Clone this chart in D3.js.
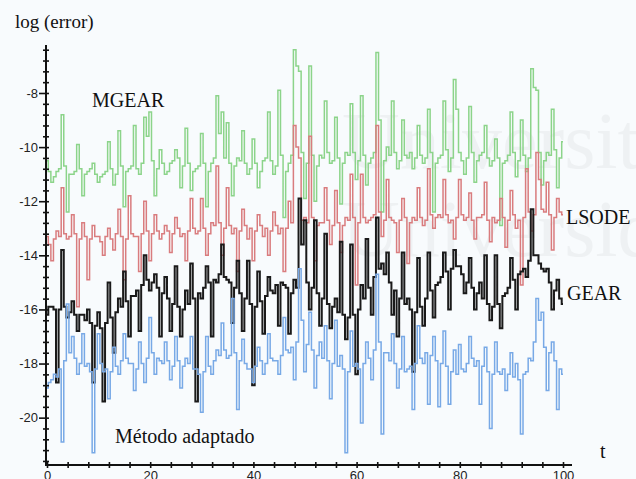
<!DOCTYPE html>
<html>
<head>
<meta charset="utf-8">
<script src="https://cdn.jsdelivr.net/npm/d3@7"></script>
<style>
  html, body { margin: 0; padding: 0; background: #f8fbfd; }
  svg { display: block; }
</style>
</head>
<body>
<div id="chart"></div>
<script>
// Error of the four integrators (log scale), read every half unit of t
const tValues = d3.range(0, 100.5, 0.5);

const mgear = [
  -10.5, -10.9, -11.3, -11.1, -10.9, -10.8, -8.8, -10.7, -12.4, -11.0,
  -11.0, -10.9, -9.9, -10.8, -11.8, -11.0, -10.9, -10.8, -10.6, -11.0,
  -11.3, -11.1, -11.0, -10.9, -9.8, -10.8, -11.4, -11.0, -9.4, -10.7,
  -12.2, -10.9, -10.8, -10.7, -9.2, -10.8, -11.0, -10.6, -8.9, -9.6,
  -8.7, -10.5, -11.8, -10.8, -10.1, -10.6, -11.0, -10.9, -10.6, -10.5,
  -10.1, -10.4, -11.5, -10.7, -9.3, -10.6, -11.6, -10.9, -10.8, -10.7,
  -9.5, -10.6, -12.2, -10.9, -10.6, -10.4, -8.1, -9.5, -8.7, -10.4,
  -9.1, -10.6, -11.8, -10.7, -10.4, -10.5, -9.4, -10.6, -11.0, -10.8,
  -9.7, -10.6, -11.5, -10.9, -10.5, -10.4, -8.7, -10.5, -11.0, -10.7,
  -7.9, -10.3, -12.6, -10.9, -10.6, -10.3, -6.4, -7.0, -7.2, -10.2,
  -11.9, -10.6, -7.0, -10.3, -12.0, -10.7, -10.3, -10.4, -8.3, -10.2,
  -10.6, -10.5, -8.9, -10.4, -12.1, -10.6, -10.2, -10.3, -8.4, -10.2,
  -11.2, -10.5, -8.1, -10.3, -11.4, -10.6, -10.4, -10.2, -6.5, -9.0,
  -12.4, -10.5, -10.0, -10.3, -8.3, -10.2, -10.8, -10.5, -9.0, -10.3,
  -10.4, -10.2, -10.8, -10.4, -9.2, -10.3, -10.6, -10.4, -8.6, -10.2,
  -12.4, -10.6, -10.4, -10.3, -8.3, -10.1, -10.9, -10.4, -7.5, -8.6,
  -10.2, -10.5, -11.0, -10.4, -8.5, -10.2, -11.3, -10.5, -10.3, -10.2,
  -9.2, -10.4, -10.7, -10.5, -9.7, -10.4, -12.9, -10.6, -10.5, -10.3,
  -8.7, -10.2, -11.1, -10.5, -9.0, -10.3, -10.9, -10.4, -7.1, -7.8,
  -7.9, -10.2, -11.4, -10.5, -10.2, -10.3, -8.6, -10.1, -11.5, -10.4,
  -9.8
];

const lsode = [
  -13.3, -13.6, -14.2, -13.4, -13.1, -13.3, -11.5, -13.2, -13.4, -13.3,
  -12.5, -13.2, -15.9, -13.4, -12.8, -13.3, -14.9, -13.4, -12.9, -13.3,
  -13.3, -13.5, -14.0, -13.3, -13.0, -13.4, -13.8, -13.2, -12.3, -13.3,
  -14.9, -13.4, -11.8, -13.2, -13.3, -13.3, -14.6, -13.2, -12.0, -13.1,
  -14.2, -13.2, -12.5, -13.1, -13.4, -13.2, -12.9, -13.1, -13.9, -13.2,
  -12.6, -13.0, -13.3, -13.2, -14.2, -13.1, -11.9, -13.0, -13.2, -13.1,
  -11.9, -13.0, -14.0, -13.2, -12.8, -12.9, -10.7, -12.8, -14.0, -13.0,
  -11.5, -12.9, -13.2, -13.0, -14.6, -13.1, -12.3, -12.9, -13.4, -13.0,
  -14.2, -13.1, -12.5, -12.9, -13.3, -13.0, -14.0, -13.1, -12.4, -12.9,
  -13.2, -13.0, -14.6, -13.0, -12.0, -12.8, -9.2, -10.0, -10.4, -12.7,
  -12.6, -12.8, -9.6, -12.6, -14.2, -12.9, -12.8, -12.8, -11.5, -12.7,
  -13.6, -12.9, -11.6, -12.8, -13.9, -12.9, -12.6, -12.7, -11.0, -12.6,
  -15.1, -12.8, -11.0, -12.6, -12.8, -12.7, -12.6, -12.5, -9.2, -12.4,
  -13.3, -12.7, -11.2, -12.6, -12.7, -12.8, -13.9, -12.7, -11.9, -12.6,
  -14.3, -12.8, -12.6, -12.7, -11.5, -12.6, -12.9, -12.7, -10.8, -12.5,
  -13.0, -12.6, -12.5, -12.6, -11.2, -12.5, -12.8, -12.7, -13.4, -12.6,
  -11.2, -12.5, -12.7, -12.6, -11.7, -12.7, -13.4, -12.6, -12.6, -12.5,
  -11.3, -12.7, -13.5, -12.6, -12.8, -12.7, -11.9, -12.6, -13.7, -12.7,
  -11.6, -12.5, -13.0, -12.7, -15.1, -12.6, -10.8, -12.4, -13.1, -12.5,
  -10.2, -11.2, -12.3, -12.4, -11.3, -12.5, -13.8, -12.6, -11.9, -12.4,
  -12.5
];

const gear = [
  -16.2, -15.9, -15.9, -16.0, -18.7, -16.0, -13.8, -15.9, -16.3, -16.1,
  -15.7, -16.2, -16.8, -16.2, -16.2, -16.4, -16.0, -16.5, -18.7, -16.6,
  -16.1, -16.7, -19.4, -16.5, -15.0, -16.3, -17.6, -16.1, -15.6, -15.9,
  -14.6, -15.7, -17.0, -15.5, -15.5, -15.3, -16.8, -15.1, -14.0, -14.9,
  -15.3, -15.0, -14.7, -15.2, -17.0, -15.4, -14.8, -15.6, -16.8, -15.8,
  -14.4, -15.9, -17.0, -16.0, -15.3, -15.8, -14.3, -15.6, -19.4, -15.4,
  -15.6, -15.2, -14.4, -15.0, -17.0, -14.9, -15.0, -14.7, -13.6, -14.8,
  -14.9, -15.0, -16.5, -15.2, -14.2, -15.4, -16.8, -15.6, -14.2, -15.8,
  -18.8, -15.9, -14.6, -15.7, -16.9, -15.5, -14.8, -15.3, -15.4, -15.1,
  -16.6, -15.0, -15.1, -15.2, -16.9, -15.4, -14.9, -15.2, -11.9, -13.6,
  -12.7, -15.0, -16.0, -15.2, -12.7, -15.4, -16.6, -15.6, -13.2, -15.8,
  -16.7, -15.9, -15.6, -16.1, -13.5, -16.2, -17.1, -16.3, -13.6, -16.2,
  -18.4, -16.0, -15.1, -15.6, -13.4, -15.2, -16.2, -14.8, -12.6, -14.5,
  -14.3, -14.7, -13.9, -15.0, -16.2, -15.3, -17.0, -15.6, -13.9, -15.8,
  -15.6, -16.0, -18.3, -16.1, -14.1, -15.9, -16.6, -15.6, -13.9, -15.3,
  -16.3, -15.1, -15.0, -14.8, -13.9, -14.6, -16.0, -14.5, -13.8, -14.4,
  -14.4, -14.7, -15.4, -15.0, -14.1, -15.2, -16.0, -15.4, -15.0, -15.6,
  -14.0, -15.8, -16.4, -15.9, -14.0, -15.8, -16.7, -15.5, -15.4, -15.2,
  -14.1, -14.9, -16.0, -14.7, -14.6, -14.5, -14.8, -14.2, -12.3, -14.0,
  -14.0, -14.3, -14.5, -14.6, -14.5, -15.0, -16.0, -15.3, -14.9, -15.6,
  -15.8
];

const adaptado = [
  -18.9, -18.7, -18.6, -18.4, -18.5, -18.2, -20.9, -17.9, -15.8, -17.6,
  -17.0, -17.8, -18.4, -18.0, -16.9, -18.1, -18.0, -18.3, -21.3, -18.2,
  -16.9, -18.0, -18.3, -18.2, -19.3, -18.3, -17.4, -18.1, -18.4, -17.9,
  -16.9, -17.8, -18.0, -18.0, -19.0, -18.2, -17.2, -18.0, -18.7, -17.8,
  -16.3, -17.6, -18.4, -17.8, -17.9, -18.0, -17.2, -17.9, -18.6, -18.1,
  -17.0, -17.9, -18.9, -18.1, -17.8, -18.0, -17.0, -18.2, -18.2, -18.4,
  -19.8, -18.3, -17.0, -18.1, -18.4, -17.9, -17.5, -17.7, -16.5, -17.5,
  -17.8, -17.7, -15.6, -17.6, -19.7, -17.9, -17.1, -18.0, -18.2, -18.2,
  -18.7, -18.1, -17.4, -17.9, -18.4, -18.0, -16.9, -17.8, -17.9, -17.9,
  -18.4, -17.7, -16.3, -17.5, -17.6, -17.4, -18.6, -17.2, -14.5, -16.4,
  -18.3, -17.3, -16.1, -17.5, -18.9, -17.7, -17.2, -17.8, -16.6, -17.9,
  -19.3, -18.0, -16.4, -18.1, -17.7, -18.2, -21.3, -18.3, -16.8, -18.1,
  -18.0, -18.2, -20.2, -18.0, -17.2, -17.8, -18.6, -17.5, -14.7, -17.2,
  -20.6, -17.6, -17.6, -17.9, -16.9, -18.0, -18.9, -18.2, -17.0, -18.3,
  -18.2, -18.1, -19.7, -18.0, -16.6, -17.8, -18.0, -17.6, -19.5, -17.7,
  -17.0, -17.9, -19.6, -18.0, -16.8, -18.1, -19.5, -18.3, -17.5, -18.4,
  -17.3, -18.2, -18.3, -18.0, -17.0, -17.8, -18.1, -17.9, -19.5, -18.1,
  -17.4, -18.3, -20.4, -18.4, -17.2, -18.3, -18.4, -18.2, -19.0, -18.4,
  -17.6, -18.5, -18.0, -18.6, -20.6, -18.4, -18.3, -17.8, -17.9, -17.2,
  -15.6, -16.4, -16.1, -17.4, -19.0, -17.6, -17.2, -17.9, -19.7, -18.2,
  -18.4
];

const seriesNames = ["MGEAR", "LSODE", "GEAR", "Método adaptado"];
const seriesColors = ["#8cd48a", "#d97c7e", "#1a1a1a", "#78a9e6"];
const seriesWidths = [1.5, 1.5, 2.0, 1.5];

const yTickValues = d3.range(0, 39).map(i => +(-21.6 + i * 0.4).toFixed(1));
const yLabelValues = [-20, -18, -16, -14, -12, -10, -8];
const xTickValues = d3.range(0, 101, 4);
const xLabelValues = [0, 20, 40, 60, 80, 100];

const width = 636, height = 479;

const svg = d3.select("#chart").append("svg")
  .attr("width", width)
  .attr("height", height);

const x = d3.scaleLinear().domain([0, 100]).range([47, 563]);
const y = d3.scaleLinear().domain([-21.75, -6.3]).range([465, 47]);

// faint watermark from the scanned page
const wm = svg.append("g")
  .attr("font-family", "'Liberation Serif', 'Times New Roman', serif")
  .attr("fill", "#000")
  .attr("opacity", 0.035);
wm.append("text").attr("x", 342).attr("y", 168).attr("font-size", 80).text("Universitat");
wm.append("text").attr("x", 342).attr("y", 256).attr("font-size", 80).text("Universidad");

// series
const line = d3.line()
  .x((d, i) => x(tValues[i]))
  .y(d => y(d))
  .curve(d3.curveStep);

[mgear, lsode, gear, adaptado].forEach((vals, k) => {
  svg.append("path")
    .datum(vals)
    .attr("fill", "none")
    .attr("stroke", seriesColors[k])
    .attr("stroke-width", seriesWidths[k])
    .attr("stroke-linejoin", "miter")
    .attr("d", line);
});

// y axis
const yAxis = svg.append("g")
  .attr("transform", "translate(46,0)")
  .call(d3.axisLeft(y)
    .tickValues(yTickValues)
    .tickSize(3)
    .tickFormat(d => yLabelValues.includes(d) ? String(d) : ""));
yAxis.select(".domain").remove();
yAxis.append("line")
  .attr("x1", 0).attr("x2", 0)
  .attr("y1", 45).attr("y2", 466)
  .attr("stroke", "#111").attr("stroke-width", 2);
yAxis.selectAll(".tick line")
  .attr("stroke", "#111")
  .attr("stroke-width", 1.6)
  .attr("x1", 3)
  .attr("x2", d => yLabelValues.includes(d) ? -7 : -3);
yAxis.selectAll(".tick text")
  .attr("x", -8)
  .attr("fill", "#222")
  .attr("font-family", "'Liberation Sans', Arial, sans-serif")
  .attr("font-size", 13);

// x axis
const xAxis = svg.append("g")
  .attr("transform", "translate(0,465)")
  .call(d3.axisBottom(x)
    .tickValues(xTickValues)
    .tickSize(3)
    .tickFormat(d => xLabelValues.includes(d) ? String(d) : ""));
xAxis.select(".domain").remove();
xAxis.append("line")
  .attr("x1", 45).attr("x2", 572)
  .attr("y1", 0).attr("y2", 0)
  .attr("stroke", "#111").attr("stroke-width", 2);
xAxis.selectAll(".tick line")
  .attr("stroke", "#111")
  .attr("stroke-width", 1.6)
  .attr("y1", -3)
  .attr("y2", 3);
xAxis.selectAll(".tick text")
  .attr("y", 6)
  .attr("fill", "#222")
  .attr("font-family", "'Liberation Sans', Arial, sans-serif")
  .attr("font-size", 13);

// labels
const serif = "'Liberation Serif', 'Times New Roman', serif";
svg.append("text").attr("x", 15).attr("y", 28)
  .attr("font-family", serif).attr("font-size", 19).attr("fill", "#111")
  .text("log (error)");
svg.append("text").attr("x", 600).attr("y", 458)
  .attr("font-family", serif).attr("font-size", 20).attr("fill", "#111")
  .text("t");

const labelPos = [[92, 107], [566, 224], [567, 300], [115, 443]];
seriesNames.forEach((name, k) => {
  svg.append("text")
    .attr("x", labelPos[k][0]).attr("y", labelPos[k][1])
    .attr("font-family", serif).attr("font-size", 20).attr("fill", "#111")
    .text(name);
});
</script>
</body>
</html>
